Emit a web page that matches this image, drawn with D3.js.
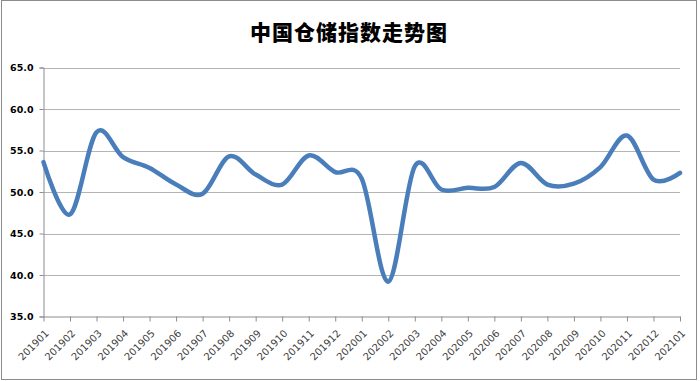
<!DOCTYPE html>
<html><head><meta charset="utf-8">
<script src="https://cdn.jsdelivr.net/npm/d3@7"></script>
<style>body{margin:0;background:#fff}svg{display:block}</style>
</head><body>
<script>
const categories = ["201901","201902","201903","201904","201905","201906","201907","201908","201909","201910","201911","201912","202001","202002","202003","202004","202005","202006","202007","202008","202009","202010","202011","202012","202101"];
const values = [53.6,47.3,57.2,54.2,52.9,50.9,49.8,54.3,52.1,50.9,54.4,52.4,51.6,39.2,53.1,50.3,50.5,50.6,53.5,50.9,51.0,53.0,56.8,51.5,52.3];
const yTicks = [35,40,45,50,55,60,65];
const title = "中国仓储指数走势图";

const W = 700, H = 381;
const svg = d3.select("body").append("svg").attr("width", W).attr("height", H);
svg.append("rect").attr("x",1.5).attr("y",0.5).attr("width",695).attr("height",379)
  .attr("fill","#fff").attr("stroke","#8c8c8c").attr("stroke-width",1);

const x = d3.scalePoint().domain(categories).range([43.5, 680]);
const y = d3.scaleLinear().domain([35,65]).range([316.5, 67.5]);

// gridlines
svg.append("g").selectAll("line").data(yTicks.slice(1)).join("line")
  .attr("x1",43.5).attr("x2",680).attr("y1",d=>Math.round(y(d))+0.5).attr("y2",d=>Math.round(y(d))+0.5)
  .attr("stroke","#b4b4b4").attr("stroke-width",1);

// y axis
const ya = svg.append("g").attr("transform","translate(43.5,0)")
  .call(d3.axisLeft(y).tickValues(yTicks).tickFormat(d3.format(".1f")).tickSize(4).tickPadding(6));
ya.select(".domain").attr("stroke","#8c8c8c");
ya.selectAll(".tick line").attr("stroke","#8c8c8c");
ya.selectAll("text").attr("font-family","DejaVu Sans").attr("font-weight","bold").attr("font-size","9.5px").attr("fill","#000");

// x axis
const xa = svg.append("g").attr("transform","translate(0,316.5)")
  .call(d3.axisBottom(x).tickSize(5).tickSizeOuter(0));
xa.select(".domain").attr("stroke","#8c8c8c");
xa.selectAll(".tick line").attr("stroke","#8c8c8c");
xa.selectAll("text")
  .attr("font-family","DejaVu Sans").attr("font-size","10px").attr("fill","#404040")
  .attr("text-anchor","end").attr("x",0).attr("y",0).attr("dy","0.35em")
  .attr("transform","translate(3,15) rotate(-45)");

// line
const line = d3.line().x((d,i)=>x(categories[i])).y(d=>y(d)).curve(d3.curveCardinal.tension(0));
svg.append("path").datum(values).attr("d",line)
  .attr("fill","none").attr("stroke","#4A7EBB").attr("stroke-width",4.5).attr("stroke-linejoin","round").attr("stroke-linecap","round");

// title
svg.append("text").attr("x",349).attr("y",40).attr("text-anchor","middle")
  .attr("font-family","Noto Sans CJK SC").attr("font-weight","900").attr("font-size","21px").attr("letter-spacing","1px")
  .attr("fill","#000").text(title);
</script>
</body></html>
